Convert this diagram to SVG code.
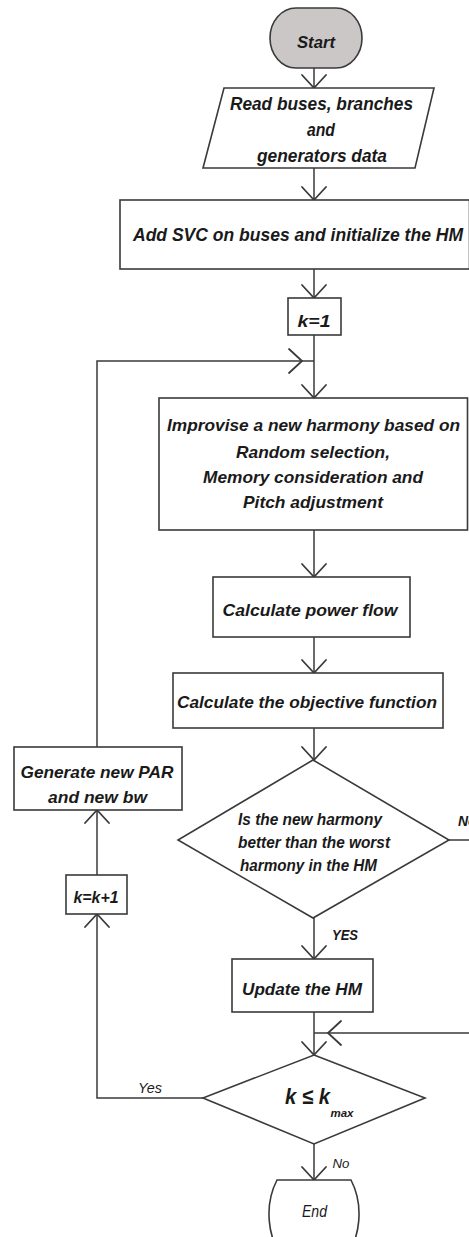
<svg xmlns="http://www.w3.org/2000/svg" width="469" height="1237" viewBox="0 0 469 1237">
<style>
  .bg { fill: #ffffff; }
  .shape { fill: #ffffff; stroke: #3a3a3a; stroke-width: 1.6; }
  .start { fill: #cbc7c7; stroke: #3a3a3a; stroke-width: 1.6; }
  .conn { fill: none; stroke: #3a3a3a; stroke-width: 1.5; }
  .t { font-family: "Liberation Sans", Arial, sans-serif; font-weight: bold; font-style: italic; fill: #1a1a1a; }
  .l { font-family: "Liberation Sans", Arial, sans-serif; font-style: italic; fill: #1a1a1a; }
</style>
<defs>
  <marker id="arr" markerUnits="userSpaceOnUse" viewBox="-15 -14 17 28" refX="0" refY="0" markerWidth="17" markerHeight="28" orient="auto" overflow="visible">
    <path d="M-13,-12 L0,0 L-13,12" fill="none" stroke="#3a3a3a" stroke-width="1.8" stroke-linecap="round"/>
  </marker>
</defs>
<rect class="bg" x="0" y="0" width="469" height="1237"/>

<g id="connectors">
  <path class="conn" d="M314,68 V88" marker-end="url(#arr)"/>
  <path class="conn" d="M314,168 V200" marker-end="url(#arr)"/>
  <path class="conn" d="M314,269 V298" marker-end="url(#arr)"/>
  <path class="conn" d="M314,335 V398" marker-end="url(#arr)"/>
  <path class="conn" d="M97,747 V361 H302" marker-end="url(#arr)"/>
  <path class="conn" d="M302,361 H314"/>
  <path class="conn" d="M314,530 V577" marker-end="url(#arr)"/>
  <path class="conn" d="M314,637 V673" marker-end="url(#arr)"/>
  <path class="conn" d="M314,728 V760" marker-end="url(#arr)"/>
  <path class="conn" d="M314,918 V959" marker-end="url(#arr)"/>
  <path class="conn" d="M449,840 H485 V1033 H328" marker-end="url(#arr)"/>
  <path class="conn" d="M328,1033 H314"/>
  <path class="conn" d="M314,1012 V1055" marker-end="url(#arr)"/>
  <path class="conn" d="M203,1098 H97 V914" marker-end="url(#arr)"/>
  <path class="conn" d="M97,875 V810" marker-end="url(#arr)"/>
  <path class="conn" d="M314,1144 V1180" marker-end="url(#arr)"/>
  <text class="t" x="458" y="826" font-size="14">No</text>
  <text class="t" x="345" y="940" font-size="15" text-anchor="middle" textLength="26" lengthAdjust="spacingAndGlyphs">YES</text>
  <text class="l" x="150" y="1093" font-size="14" text-anchor="middle" textLength="24" lengthAdjust="spacingAndGlyphs">Yes</text>
  <text class="l" x="341" y="1168" font-size="13" text-anchor="middle" textLength="17" lengthAdjust="spacingAndGlyphs">No</text>
</g>

<g id="start">
  <rect class="start" x="270" y="8" width="92" height="60" rx="26" ry="30"/>
  <text class="t" x="316" y="48" font-size="16" text-anchor="middle" textLength="38" lengthAdjust="spacingAndGlyphs">Start</text>
</g>

<g id="read">
  <polygon class="shape" points="224,88 434,88 415,168 203,168"/>
  <text class="t" x="321.5" y="110" font-size="18" text-anchor="middle" textLength="183" lengthAdjust="spacingAndGlyphs">Read buses, branches</text>
  <text class="t" x="321" y="136" font-size="18" text-anchor="middle" textLength="28" lengthAdjust="spacingAndGlyphs">and</text>
  <text class="t" x="322" y="162" font-size="18" text-anchor="middle" textLength="130" lengthAdjust="spacingAndGlyphs">generators data</text>
</g>

<g id="addsvc">
  <rect class="shape" x="120" y="200" width="349.5" height="69"/>
  <text class="t" x="298" y="241" font-size="18" text-anchor="middle" textLength="330" lengthAdjust="spacingAndGlyphs">Add SVC on buses and initialize the HM</text>
</g>

<g id="k1">
  <rect class="shape" x="288" y="298" width="53" height="37"/>
  <text class="t" x="314" y="327" font-size="17" text-anchor="middle" textLength="33" lengthAdjust="spacingAndGlyphs">k=1</text>
</g>

<g id="improvise">
  <rect class="shape" x="159" y="398" width="308.5" height="132"/>
  <text class="t" x="313.5" y="431" font-size="17" text-anchor="middle" textLength="293" lengthAdjust="spacingAndGlyphs">Improvise a new harmony based on</text>
  <text class="t" x="313" y="458" font-size="17" text-anchor="middle" textLength="154" lengthAdjust="spacingAndGlyphs">Random selection,</text>
  <text class="t" x="313" y="483" font-size="17" text-anchor="middle" textLength="220" lengthAdjust="spacingAndGlyphs">Memory consideration and</text>
  <text class="t" x="313" y="508" font-size="17" text-anchor="middle" textLength="140" lengthAdjust="spacingAndGlyphs">Pitch adjustment</text>
</g>

<g id="powerflow">
  <rect class="shape" x="213" y="577" width="197" height="60"/>
  <text class="t" x="310" y="616" font-size="17" text-anchor="middle" textLength="175" lengthAdjust="spacingAndGlyphs">Calculate power flow</text>
</g>

<g id="objective">
  <rect class="shape" x="173" y="673" width="270" height="55"/>
  <text class="t" x="307" y="708" font-size="17" text-anchor="middle" textLength="260" lengthAdjust="spacingAndGlyphs">Calculate the objective function</text>
</g>

<g id="decision1">
  <polygon class="shape" points="313,760 449,840 313,918 178,840"/>
  <text class="t" x="238" y="825" font-size="16" textLength="144" lengthAdjust="spacingAndGlyphs">Is the new harmony</text>
  <text class="t" x="238" y="848" font-size="16" textLength="152" lengthAdjust="spacingAndGlyphs">better than the worst</text>
  <text class="t" x="240" y="871" font-size="16" textLength="137" lengthAdjust="spacingAndGlyphs">harmony in the HM</text>
</g>

<g id="generate">
  <rect class="shape" x="14" y="747" width="168" height="63"/>
  <text class="t" x="97" y="778" font-size="17" text-anchor="middle" textLength="153" lengthAdjust="spacingAndGlyphs">Generate new PAR</text>
  <text class="t" x="97.5" y="803" font-size="17" text-anchor="middle" textLength="99" lengthAdjust="spacingAndGlyphs">and new bw</text>
</g>

<g id="kinc">
  <rect class="shape" x="66" y="875" width="61" height="39"/>
  <text class="t" x="96" y="903" font-size="16" text-anchor="middle" textLength="45" lengthAdjust="spacingAndGlyphs">k=k+1</text>
</g>

<g id="update">
  <rect class="shape" x="232" y="959" width="141" height="53"/>
  <text class="t" x="302" y="995" font-size="17" text-anchor="middle" textLength="120" lengthAdjust="spacingAndGlyphs">Update the HM</text>
</g>

<g id="decision2">
  <polygon class="shape" points="314,1055 425,1098 314,1144 203,1098"/>
  <text class="t" x="307.5" y="1104" font-size="22" text-anchor="middle" textLength="45" lengthAdjust="spacingAndGlyphs">k ≤ k</text>
  <text class="t" x="342" y="1117" font-size="11" text-anchor="middle" textLength="23" lengthAdjust="spacingAndGlyphs">max</text>
</g>

<g id="end">
  <path class="shape" d="M277,1180 H351 A45,60 0 1 1 277,1180 Z"/>
  <text class="l" x="314.5" y="1217" font-size="16" text-anchor="middle" textLength="25" lengthAdjust="spacingAndGlyphs">End</text>
</g>
</svg>
